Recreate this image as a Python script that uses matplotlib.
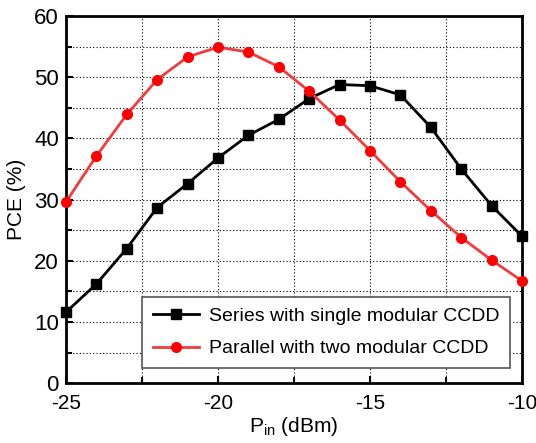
import matplotlib.pyplot as plt
import matplotlib as mpl
import numpy as np

pin = [-25, -24, -23, -22, -21, -20, -19, -18, -17, -16, -15, -14, -13, -12, -11, -10]
series_pce = [11.6, 16.2, 22.0, 28.7, 32.6, 36.8, 40.5, 43.1, 46.5, 48.8,
              48.6, 47.1, 41.8, 35.0, 29.0, 24.0]
parallel_pce = [29.6, 37.1, 43.9, 49.6, 53.3, 54.9, 54.1, 51.7, 47.7, 43.0,
                38.0, 32.9, 28.2, 23.8, 20.1, 16.7]
labels = ["Series with single modular CCDD", "Parallel with two modular CCDD"]

mpl.rcParams.update({
    "font.family": ["Liberation Sans", "DejaVu Sans"],
    "font.size": 15,
    "axes.unicode_minus": False,
    "axes.linewidth": 2,
    "xtick.direction": "in", "ytick.direction": "in",
    "xtick.major.width": 1.5, "ytick.major.width": 1.5,
    "xtick.minor.width": 1.5, "ytick.minor.width": 1.5,
})

fig = plt.figure(figsize=(5.36, 4.43), dpi=100)
ax = fig.add_axes([0.123, 0.135, 0.851, 0.829])

ax.plot(pin, series_pce, color="black", lw=2, marker="s", ms=6.5, label=labels[0],
        clip_on=False, zorder=3)
ax.plot(pin, parallel_pce, color="#f03c3c", lw=2, marker="o", ms=7,
        mfc="red", mec="red", label=labels[1], clip_on=False, zorder=3)

ax.set_xlim(-25, -10)
ax.set_ylim(0, 60)
ax.set_xticks([-25, -20, -15, -10])
ax.set_xticks(np.arange(-25, -9, 2.5), minor=True)
ax.set_yticks(np.arange(0, 61, 10))
ax.set_yticks(np.arange(0, 61, 5), minor=True)
ax.tick_params(which="major", length=5, labelsize=16)
ax.tick_params(axis="x", which="major", labelsize=15, pad=8)
ax.tick_params(axis="y", which="major", pad=5)
ax.tick_params(which="minor", length=4)
ax.grid(True, which="both", color="black", linestyle=(0, (1, 2)), linewidth=0.8)

ax.set_xlabel("P$_{\\mathregular{in}}$ (dBm)", fontsize=15, labelpad=1)
ax.set_ylabel("PCE (%)", fontsize=15, labelpad=6)

leg = ax.legend(loc="lower right", bbox_to_anchor=(0.974, 0.041), borderaxespad=0,
                fancybox=False, edgecolor="#555555", framealpha=1, fontsize=14,
                handlelength=2.4, borderpad=0.55, labelspacing=0.75,
                handletextpad=0.5)
leg.get_frame().set_linewidth(1.2)

fig.savefig("out.png", dpi=100)
